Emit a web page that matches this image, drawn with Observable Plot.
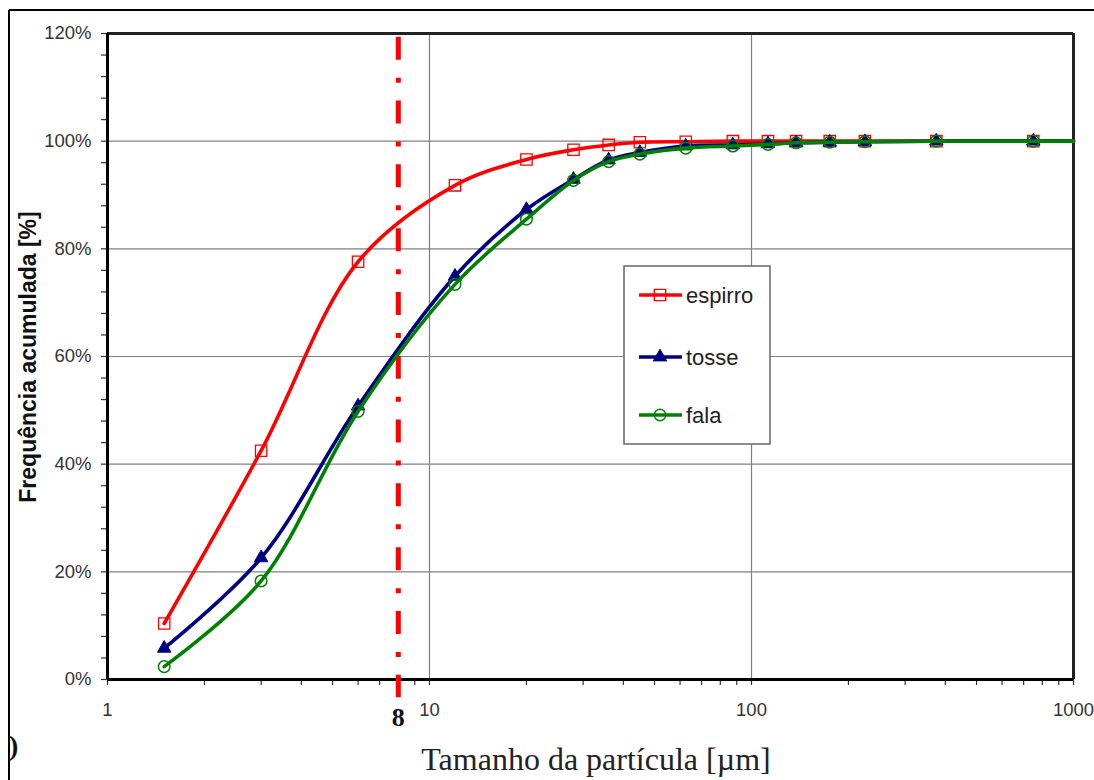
<!DOCTYPE html>
<html>
<head>
<meta charset="utf-8">
<script src="https://cdn.jsdelivr.net/npm/d3@7"></script>
<script src="https://cdn.jsdelivr.net/npm/@observablehq/plot@0.6"></script>
<style>
  html, body { margin: 0; padding: 0; background: #fff; }
  #chart { position: relative; width: 1094px; height: 780px; overflow: hidden; }
</style>
</head>
<body>
<div id="chart"></div>
<script>
// Particle size (µm) of each measured class
const sizes = [1.5, 3, 6, 12, 20, 28, 36, 45, 62.5, 87.5, 112.5, 137.5, 175, 225, 375, 750];
// end of the curves (no marker)
const lineEnd = 1000;
const lineEndValue = 100;
// Cumulative frequency (%)
const espirro = [10.4, 42.5, 77.6, 91.8, 96.6, 98.4, 99.3, 99.8, 99.9, 100, 100, 100, 100, 100, 100, 100];
const tosse   = [5.8, 22.6, 50.8, 74.9, 87.3, 92.9, 96.5, 97.9, 99.1, 99.3, 99.5, 99.7, 99.8, 99.9, 100, 100];
const fala    = [2.4, 18.3, 49.8, 73.4, 85.5, 92.7, 96.2, 97.6, 98.7, 99.1, 99.4, 99.7, 99.8, 99.9, 100, 100];
const seriesNames = ["espirro", "tosse", "fala"];
const seriesColors = ["#ff0000", "#000080", "#008000"];
const cutoff = [8];
const xTicks = [1, 10, 100, 1000];
const xMinor = [2,3,4,5,6,7,8,9,20,30,40,50,60,70,80,90,200,300,400,500,600,700,800,900];
const yTicks = [0, 20, 40, 60, 80, 100, 120];
const yMinor = [4,8,12,16,24,28,32,36,44,48,52,56,64,68,72,76,84,88,92,96,104,108,112,116];
const xTitle = "Tamanho da partícula [µm]";
const yTitle = "Frequência acumulada [%]";

const seriesValues = [espirro, tosse, fala];
const markerRows = [];
const lineRows = [];
seriesNames.forEach((name, i) => {
  sizes.forEach((s, j) => {
    markerRows.push({series: name, x: s, y: seriesValues[i][j]});
    lineRows.push({series: name, x: s, y: seriesValues[i][j]});
  });
  lineRows.push({series: name, x: lineEnd, y: lineEndValue});
});

const symbolOf = {espirro: "square", tosse: "triangle", fala: "circle"};
const colorOf = Object.fromEntries(seriesNames.map((n, i) => [n, seriesColors[i]]));

const seriesMarks = [];
seriesNames.forEach(name => {
  seriesMarks.push(Plot.line(lineRows.filter(d => d.series === name), {
    x: "x", y: "y", stroke: colorOf[name], strokeWidth: 3.6, curve: "catmull-rom"
  }));
  const pts = markerRows.filter(d => d.series === name);
  if (name === "espirro") {
    seriesMarks.push(Plot.dot(pts, {x: "x", y: "y", symbol: "square", r: 6.4, stroke: colorOf[name], strokeWidth: 1.3, fill: "none"}));
  } else if (name === "tosse") {
    seriesMarks.push(Plot.dot(pts, {x: "x", y: "y", symbol: "triangle", r: 5, fill: colorOf[name], stroke: colorOf[name], strokeWidth: 1}));
  } else {
    seriesMarks.push(Plot.dot(pts, {x: "x", y: "y", symbol: "circle", r: 5.8, stroke: colorOf[name], strokeWidth: 1.5, fill: "none"}));
  }
});

const chart = Plot.plot({
  width: 1094,
  height: 780,
  marginLeft: 107,
  marginRight: 21,
  marginTop: 33,
  marginBottom: 101,
  x: {type: "log", domain: [1, 1000]},
  y: {domain: [0, 120]},
  style: {fontFamily: "'Liberation Sans', Arial, sans-serif", fontSize: "18.5px", color: "#333", background: "transparent", overflow: "visible"},
  marks: [
    Plot.gridY([20, 40, 60, 80, 100], {stroke: "#808080", strokeOpacity: 1, strokeWidth: 1.2}),
    Plot.gridX([10, 100], {stroke: "#808080", strokeOpacity: 1, strokeWidth: 1.2}),
    Plot.axisX(xMinor, {tickSize: 6, tickFormat: () => "", stroke: "#333", strokeWidth: 1.2, label: null}),
    Plot.axisX(xTicks, {tickSize: 6, tickPadding: 17, tickFormat: d => String(d), stroke: "#333", strokeWidth: 1.2, fill: "#333", fontSize: 18.5, label: null}),
    Plot.axisY(yMinor, {tickSize: 6, tickFormat: () => "", stroke: "#333", strokeWidth: 1.2, label: null}),
    Plot.axisY(yTicks, {tickSize: 6, tickPadding: 10, tickFormat: d => d + "%", stroke: "#333", strokeWidth: 1.2, fill: "#333", fontSize: 18.5, label: null}),
    Plot.ruleY([120], {stroke: "#222", strokeWidth: 3}),
    Plot.ruleX([1000], {stroke: "#222", strokeWidth: 3}),
    Plot.ruleY([0], {stroke: "#000", strokeWidth: 3}),
    Plot.ruleX([1], {stroke: "#000", strokeWidth: 3}),
    Plot.ruleX(cutoff, {y1: 119.3, y2: -3.4, stroke: "#ff0000", strokeWidth: 5, strokeDasharray: "23,18,5,17.8"}),
    ...seriesMarks,
    Plot.text(cutoff, {x: d => d, frameAnchor: "bottom", dy: 46, text: d => String(d), fontFamily: "'Liberation Serif', 'Times New Roman', serif", fontWeight: "bold", fontSize: 26, fill: "#111"})
  ]
});

document.getElementById("chart").appendChild(chart);
const svg = d3.select(chart);

// outer page border (partial frame of the source figure)
svg.append("line").attr("x1", 9).attr("x2", 1094).attr("y1", 10).attr("y2", 10).attr("stroke", "#000").attr("stroke-width", 2);
svg.append("line").attr("x1", 9).attr("x2", 9).attr("y1", 10).attr("y2", 780).attr("stroke", "#000").attr("stroke-width", 2);
svg.append("text").attr("x", 9).attr("y", 755).attr("text-anchor", "start").attr("font-family", "'Liberation Serif', serif").attr("font-size", 28).attr("font-weight", "bold").attr("fill", "#111").text(")");

// axis titles
svg.append("text")
  .attr("transform", "translate(28,357) rotate(-90)")
  .attr("text-anchor", "middle").attr("dominant-baseline", "central")
  .attr("font-family", "'Liberation Sans', Arial, sans-serif").attr("font-weight", "bold").attr("font-size", 23).attr("fill", "#111")
  .text(yTitle);
svg.append("text")
  .attr("x", 596).attr("y", 770).attr("text-anchor", "middle")
  .attr("font-family", "'Liberation Serif', 'Times New Roman', serif").attr("font-size", 32).attr("fill", "#222")
  .text(xTitle);

// legend
const lg = svg.append("g");
lg.append("rect").attr("x", 624).attr("y", 266).attr("width", 146).attr("height", 178).attr("fill", "#fff").attr("stroke", "#666").attr("stroke-width", 1.5);
const rowsY = [295, 357, 415];
seriesNames.forEach((name, i) => {
  const y = rowsY[i];
  lg.append("line").attr("x1", 639).attr("x2", 682).attr("y1", y).attr("y2", y).attr("stroke", colorOf[name]).attr("stroke-width", 3.6);
  const sym = {square: d3.symbolSquare, triangle: d3.symbolTriangle, circle: d3.symbolCircle}[symbolOf[name]];
  const r = name === "espirro" ? 6.4 : name === "tosse" ? 5 : 5.8;
  const p = lg.append("path").attr("transform", `translate(660,${y})`).attr("d", d3.symbol(sym, Math.PI * r * r)());
  if (name === "tosse") p.attr("fill", colorOf[name]).attr("stroke", colorOf[name]);
  else p.attr("fill", "none").attr("stroke", colorOf[name]).attr("stroke-width", 1.4);
  lg.append("text").attr("x", 686).attr("y", y).attr("text-anchor", "start").attr("dominant-baseline", "central")
    .attr("font-family", "'Liberation Sans', Arial, sans-serif").attr("font-size", 22).attr("fill", "#222").text(name);
});
</script>
</body>
</html>
